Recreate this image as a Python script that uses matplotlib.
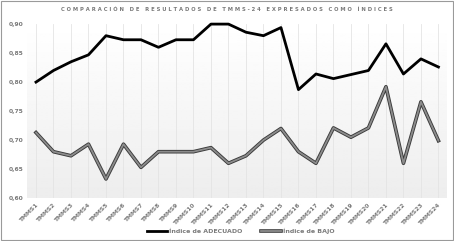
import numpy as np
import matplotlib
matplotlib.use('Agg')
from matplotlib import pyplot as plt
import matplotlib.patheffects as pe
from matplotlib.ticker import FuncFormatter

categories = ['TMMS%d' % i for i in range(1, 25)]
adecuado = [0.800, 0.820, 0.835, 0.847, 0.880, 0.873, 0.873, 0.860, 0.873, 0.873, 0.900, 0.900,
            0.886, 0.880, 0.894, 0.787, 0.814, 0.806, 0.813, 0.820, 0.866, 0.814, 0.840, 0.826]
bajo = [0.713, 0.680, 0.673, 0.693, 0.633, 0.693, 0.653, 0.680, 0.680, 0.680, 0.687, 0.660,
        0.673, 0.700, 0.720, 0.680, 0.660, 0.721, 0.705, 0.721, 0.792, 0.660, 0.766, 0.699]

txt = '#7a7a7a'
fig = plt.figure(figsize=(4.54, 2.41), dpi=100)
ax = fig.add_axes([0.06, 0.178, 0.925, 0.722])

x = np.arange(len(categories))
# soft gradient background in the plot area
grad = np.linspace(1.0, 0.93, 100).reshape(-1, 1)
ax.imshow(grad, cmap='gray', vmin=0, vmax=1, aspect='auto',
          extent=[-0.5, len(categories) - 0.5, 0.60, 0.90], zorder=0)

for xi in x:
    ax.axvline(xi, color='#e4e4e4', lw=0.6, zorder=1)

ax.plot(x, adecuado, color='black', lw=2.0, label='Índice de ADECUADO', zorder=3, clip_on=False)
ax.plot(x, bajo, color='#8c8c8c', lw=1.3, label='Índice de BAJO', zorder=3,
        path_effects=[pe.Stroke(linewidth=2.6, foreground='#3a3a3a'), pe.Normal()])

ax.set_xlim(-0.5, len(categories) - 0.5)
ax.set_ylim(0.60, 0.90)
ax.set_yticks([0.60, 0.65, 0.70, 0.75, 0.80, 0.85, 0.90])
ax.yaxis.set_major_formatter(FuncFormatter(lambda v, p: ('%.2f' % v).replace('.', ',')))
ax.set_xticks(x)
ax.set_xticklabels(categories, rotation=45, ha='right', rotation_mode='anchor')
ax.tick_params(length=0, labelsize=4.3, labelcolor=txt, pad=3)
for lab in ax.get_xticklabels() + ax.get_yticklabels():
    lab.set_fontweight('bold')
for s in ax.spines.values():
    s.set_visible(False)

fig.text(0.5, 0.962, 'C O M P A R A C I Ó N   D E   R E S U L T A D O S   D E   T M M S - 2 4   E X P R E S A D O S   C O M O   Í N D I C E S',
         ha='center', va='center', fontsize=3.8, fontweight='bold', color=txt)

leg = fig.legend(loc='center', bbox_to_anchor=(0.53, 0.04), ncol=2, frameon=False,
                 fontsize=4.5, handlelength=3.2, columnspacing=3, handletextpad=0.3)
for t in leg.get_texts():
    t.set_color(txt)
    t.set_fontweight('bold')

fig.patches.append(plt.Rectangle((0.002, 0.004), 0.996, 0.992, transform=fig.transFigure,
                                 fill=False, edgecolor='#9a9a9a', lw=0.8))

plt.savefig('out.png', dpi=100)
